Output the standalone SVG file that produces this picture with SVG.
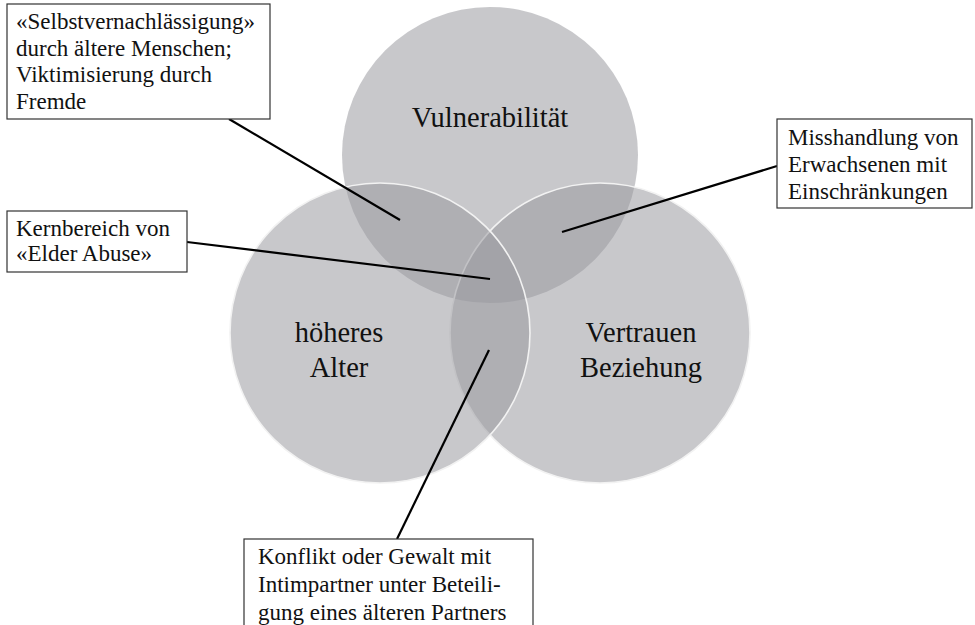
<svg xmlns="http://www.w3.org/2000/svg" width="975" height="625" viewBox="0 0 975 625">
<style>
.c{fill:#9a9a9e;fill-opacity:0.54}
.cs{stroke:#f2f2f2;stroke-width:1.6}
.lbl{font-family:"Liberation Serif","Times New Roman",serif;font-size:28.5px;fill:#111;text-anchor:middle}
.bt{font-family:"Liberation Serif","Times New Roman",serif;font-size:23px;fill:#111}
.box{fill:#fff;stroke:#333;stroke-width:1.2}
.ln{stroke:#000;stroke-width:2.2;fill:none}
</style>
<rect width="975" height="625" fill="#fff"/>
<g id="vulnerabilitaet">
<circle class="c" cx="490" cy="155" r="148"/>
<text class="lbl" x="490" y="127">Vulnerabilität</text>
</g>
<g id="vertrauen">
<circle class="c cs" cx="600" cy="333" r="150"/>
</g>
<g id="alter">
<circle class="c cs" cx="380" cy="333" r="150"/>
<text class="lbl" x="339" y="342">höheres</text>
<text class="lbl" x="339" y="377">Alter</text>
</g>
<g id="vertrauen-label">
<text class="lbl" x="641" y="342">Vertrauen</text>
<text class="lbl" x="641" y="377">Beziehung</text>
</g>
<g id="connectors">
<line class="ln" x1="229" y1="119" x2="400" y2="220"/>
<line class="ln" x1="187" y1="242" x2="490" y2="279"/>
<line class="ln" x1="777" y1="166" x2="562" y2="232"/>
<line class="ln" x1="397" y1="539" x2="489" y2="350"/>
</g>
<g id="selbstvernachlaessigung">
<rect class="box" x="7" y="4" width="263" height="115"/>
<text class="bt" x="16" y="29">«Selbstvernachlässigung»</text>
<text class="bt" x="16" y="55.5">durch ältere Menschen;</text>
<text class="bt" x="16" y="82">Viktimisierung durch</text>
<text class="bt" x="16" y="108.5">Fremde</text>
</g>
<g id="kernbereich">
<rect class="box" x="7" y="211" width="180" height="61"/>
<text class="bt" x="16" y="236">Kernbereich von</text>
<text class="bt" x="16" y="261">«Elder Abuse»</text>
</g>
<g id="misshandlung">
<rect class="box" x="777" y="119" width="195" height="89"/>
<text class="bt" x="788" y="145">Misshandlung von</text>
<text class="bt" x="788" y="172">Erwachsenen mit</text>
<text class="bt" x="788" y="199">Einschränkungen</text>
</g>
<g id="konflikt">
<rect class="box" x="244" y="539" width="289" height="100"/>
<text class="bt" x="258" y="564">Konflikt oder Gewalt mit</text>
<text class="bt" x="258" y="592">Intimpartner unter Beteili-</text>
<text class="bt" x="258" y="620">gung eines älteren Partners</text>
</g>
</svg>
